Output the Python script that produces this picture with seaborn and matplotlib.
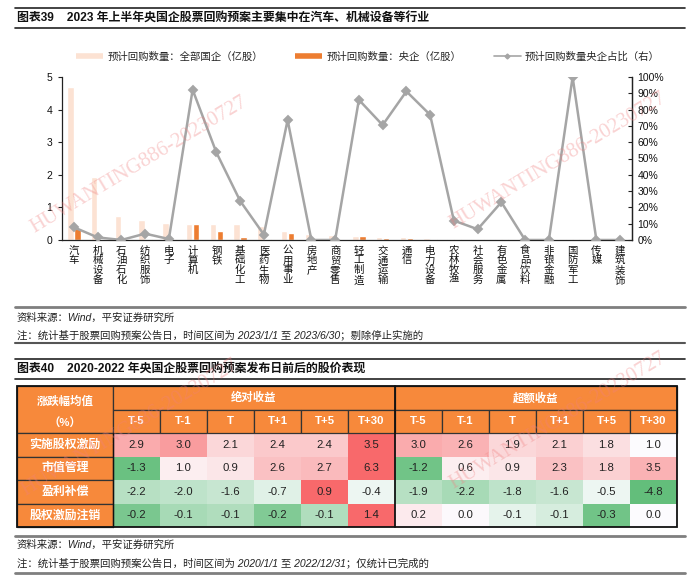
import numpy as np
import pandas as pd
import matplotlib
matplotlib.use('Agg')
import matplotlib.pyplot as plt
import seaborn as sns
from matplotlib.colors import LinearSegmentedColormap
from matplotlib.patches import Rectangle
from matplotlib.lines import Line2D

sns.set_theme(style='white')
plt.rcParams['font.family'] = ['Liberation Sans', 'Noto Sans CJK SC']
plt.rcParams['axes.unicode_minus'] = False

# ---------------- data: chart 1 ----------------
industries = ['汽车', '机械设备', '石油石化', '纺织服饰', '电子', '计算机', '钢铁', '基础化工',
              '医药生物', '公用事业', '房地产', '商贸零售', '轻工制造', '交通运输', '通信', '电力设备',
              '农林牧渔', '社会服务', '有色金属', '食品饮料', '非银金融', '国防军工', '传媒', '建筑装饰']
all_soe = [4.70, 1.93, 0.74, 0.61, 0.53, 0.50, 0.48, 0.48, 0.43, 0.29, 0.19, 0.15,
           0.13, 0.08, 0.08, 0.05, 0.03, 0.03, 0.03, 0.01, 0.01, 0.02, 0.01, 0.01]
central_soe = [0.36, 0.03, 0.00, 0.02, 0.03, 0.48, 0.28, 0.10, 0.02, 0.22, 0.00, 0.00,
               0.11, 0.06, 0.07, 0.04, 0.02, 0.02, 0.02, 0.00, 0.00, 0.02, 0.00, 0.00]
central_share = [7.8, 1.6, 0.0, 3.9, 0.6, 92.2, 53.7, 24.0, 3.3, 73.6, 0.0, 0.0,
                 86.0, 70.5, 91.2, 76.8, 11.9, 6.6, 23.2, 0.0, 0.0, 100.0, 0.0, 0.0]
series_labels = ['预计回购数量：全部国企（亿股）', '预计回购数量：央企（亿股）', '预计回购数量央企占比（右）']
left_ticks = [0, 1, 2, 3, 4, 5]
right_ticks = [0, 10, 20, 30, 40, 50, 60, 70, 80, 90, 100]

# ---------------- data: chart 2 ----------------
row_labels = ['实施股权激励', '市值管理', '盈利补偿', '股权激励注销']
group_labels = ['绝对收益', '超额收益']
col_labels = ['T-5', 'T-1', 'T', 'T+1', 'T+5', 'T+30']
abs_ret = [[2.9, 3.0, 2.1, 2.4, 2.4, 3.5],
           [-1.3, 1.0, 0.9, 2.6, 2.7, 6.3],
           [-2.2, -2.0, -1.6, -0.7, 0.9, -0.4],
           [-0.2, -0.1, -0.1, -0.2, -0.1, 1.4]]
exc_ret = [[3.0, 2.6, 1.9, 2.1, 1.8, 1.0],
           [-1.2, 0.6, 0.9, 2.3, 1.8, 3.5],
           [-1.9, -2.2, -1.8, -1.6, -0.5, -4.8],
           [0.2, 0.0, -0.1, -0.1, -0.3, 0.0]]
# colour intensity of each cell (-1 green .. 0 white .. 1 red)
abs_shade = [[0.55, 0.65, 0.25, 0.35, 0.35, 1.0],
             [-0.95, 0.1, 0.15, 0.4, 0.45, 1.0],
             [-0.45, -0.4, -0.35, -0.18, 1.0, -0.1],
             [-0.85, -0.55, -0.5, -0.8, -0.5, 1.0]]
exc_shade = [[0.55, 0.5, 0.25, 0.3, 0.2, 0.0],
             [-0.9, 0.1, 0.15, 0.4, 0.3, 0.5],
             [-0.45, -0.55, -0.4, -0.35, -0.1, -1.0],
             [0.12, 0.02, -0.15, -0.25, -0.9, 0.0]]

W, H = 700, 587
fig = plt.figure(figsize=(W / 100, H / 100), dpi=100)
fig.patch.set_facecolor('white')

def fy(y):
    return 1 - y / H

def hline(y, color='#222222', lw=1.2):
    fig.add_artist(Line2D([15 / W, 685 / W], [fy(y), fy(y)], transform=fig.transFigure,
                          color=color, lw=lw))

# titles, rules and notes
hline(8)
hline(28)
fig.text(17 / W, fy(18), '图表39    2023 年上半年央国企股票回购预案主要集中在汽车、机械设备等行业',
         fontsize=8.6, fontweight='bold', va='center', ha='left', color='#111111')
hline(307, color='#7f7f7f', lw=2)
fig.text(17 / W, fy(318), '资料来源：Wind，平安证券研究所', fontsize=7.5, style='italic',
         va='center', color='#222222')
fig.text(17 / W, fy(335), '注：统计基于股票回购预案公告日，时间区间为 2023/1/1 至 2023/6/30；剔除停止实施的',
         fontsize=7.5, style='italic', va='center', color='#222222')
hline(343, color='#555555', lw=1.5)
hline(359)
hline(379)
fig.text(17 / W, fy(369), '图表40    2020-2022 年央国企股票回购预案发布日前后的股价表现',
         fontsize=8.6, fontweight='bold', va='center', ha='left', color='#111111')
hline(536, color='#7f7f7f', lw=2)
fig.text(17 / W, fy(545), '资料来源：Wind，平安证券研究所', fontsize=7.5, style='italic',
         va='center', color='#222222')
fig.text(17 / W, fy(563), '注：统计基于股票回购预案公告日，时间区间为 2020/1/1 至 2022/12/31；仅统计已完成的',
         fontsize=7.5, style='italic', va='center', color='#222222')
hline(573, color='#7f7f7f', lw=2)

# ---------------- chart 1 ----------------
c_all, c_cen, c_line = '#FCE2D3', '#ED7D31', '#A5A5A5'
ax = fig.add_axes([62 / W, fy(240), 570 / W, 163 / H])
n = len(industries)
df = pd.DataFrame({'行业': industries * 2,
                   '数量': all_soe + central_soe,
                   '系列': [series_labels[0]] * n + [series_labels[1]] * n})
sns.barplot(data=df, x='行业', y='数量', hue='系列', order=industries,
            hue_order=series_labels[:2], palette=[c_all, c_cen], saturation=1,
            width=0.58, gap=0.06, legend=False, ax=ax)
ax.set_xlim(-0.5, n - 0.5)
ax.set_ylim(0, 5)
ax.set_yticks(left_ticks)
ax.set_yticklabels([str(t) for t in left_ticks], fontsize=7.5, color='#111111')
ax.set_xticks(range(n))
ax.set_xticklabels(['\n'.join(c) for c in industries], fontsize=7.5, linespacing=0.98,
                   color='#111111', va='top')
ax.set_xticks(np.arange(0.5, n - 0.5, 1), minor=True)
ax.tick_params(axis='x', which='major', length=0, pad=4)
ax.tick_params(axis='x', which='minor', length=3, direction='in', color='#222222', width=0.8)
ax.tick_params(axis='y', length=3, direction='out', color='#222222', width=0.8, pad=4)
ax.set_xlabel('')
ax.set_ylabel('')
for s in ['left', 'bottom', 'right']:
    ax.spines[s].set_color('#222222')
    ax.spines[s].set_linewidth(0.9)
ax.spines['top'].set_visible(False)

ax2 = ax.twinx()
sns.pointplot(x=industries, y=central_share, order=industries, color=c_line, markers='D',
              markersize=4, linewidth=1.8, ax=ax2)
ax2.set_xlim(-0.5, n - 0.5)
ax2.set_ylim(0, 100)
ax2.set_yticks(right_ticks)
ax2.set_yticklabels([f'{t}%' for t in right_ticks], fontsize=7.5, color='#111111')
ax2.tick_params(axis='y', length=3, direction='in', color='#222222', width=0.8, pad=4)
ax2.set_ylabel('')
ax2.set_xlabel('')
ax2.spines['top'].set_visible(False)
ax2.spines['right'].set_color('#222222')
ax2.spines['right'].set_linewidth(0.9)
ax2.spines['left'].set_visible(False)
ax2.spines['bottom'].set_visible(False)

handles = [Line2D([], [], color=c_all, lw=4, solid_capstyle='butt'),
           Line2D([], [], color=c_cen, lw=4, solid_capstyle='butt'),
           Line2D([], [], color=c_line, lw=1.2, marker='D', markersize=2.5)]
fig.legend(handles, series_labels, loc='center', bbox_to_anchor=(368 / W, fy(57)), ncol=3,
           frameon=False, fontsize=7.5, handlelength=2.6, handletextpad=0.4,
           columnspacing=3.1)

# ---------------- chart 2 ----------------
cmap = LinearSegmentedColormap.from_list('gwr', ['#63BE7B', '#FCFCFF', '#F8696B'])
values = np.hstack([np.array(abs_ret), np.array(exc_ret)])
shade = np.hstack([np.array(abs_shade), np.array(exc_shade)])
annot = np.array([[f'{v:.1f}' for v in row] for row in values])
axt = fig.add_axes([113 / W, fy(527), 564 / W, 94 / H])
sns.heatmap(shade, ax=axt, cmap=cmap, vmin=-1, vmax=1, cbar=False, annot=annot, fmt='',
            annot_kws={'fontsize': 8.2, 'color': '#222222'}, xticklabels=False,
            yticklabels=False, linewidths=0)

orange = '#F7893B'
edge = '#333333'
lw_c = 0.9
lx = -96 / 47
# left header
axt.add_patch(Rectangle((lx, -2), -lx, 2, facecolor=orange, edgecolor=edge, lw=lw_c, clip_on=False))
axt.text(lx / 2, -1.36, '涨跌幅均值', ha='center', va='center', color='white', fontsize=8.2,
         fontweight='bold', clip_on=False)
axt.text(lx / 2, -0.47, '（%）', ha='center', va='center', color='white', fontsize=8.2,
         fontweight='bold', clip_on=False)
for g, lab in enumerate(group_labels):
    axt.add_patch(Rectangle((6 * g, -2), 6, 1, facecolor=orange, edgecolor=edge, lw=lw_c, clip_on=False))
    axt.text(6 * g + 3, -1.5, lab, ha='center', va='center', color='white', fontsize=8.2,
             fontweight='bold', clip_on=False)
    for j, cl in enumerate(col_labels):
        x0 = 6 * g + j
        axt.add_patch(Rectangle((x0, -1), 1, 1, facecolor=orange, edgecolor=edge, lw=lw_c, clip_on=False))
        axt.text(x0 + 0.5, -0.5, cl, ha='center', va='center', color='white', fontsize=8.2,
                 fontweight='bold', clip_on=False)
for i, rl in enumerate(row_labels):
    axt.add_patch(Rectangle((lx, i), -lx, 1, facecolor=orange, edgecolor=edge, lw=lw_c, clip_on=False))
    axt.text(lx / 2, i + 0.5, rl, ha='center', va='center', color='white', fontsize=8.6,
             fontweight='bold', clip_on=False)
axt.add_patch(Rectangle((lx, -2), 12 - lx, 6, facecolor='none', edgecolor='#111111', lw=1.3,
                        clip_on=False, zorder=5))
axt.plot([6, 6], [-2, 4], color='#111111', lw=1.3, clip_on=False, zorder=5)
axt.plot([0, 0], [0, 4], color='#111111', lw=1.0, clip_on=False, zorder=5)
for s in axt.spines.values():
    s.set_visible(False)

# watermarks
wm = 'HUWANTING886-20230727'
for (x, y) in [(139, 165), (558, 161), (130, 428), (558, 421)]:
    fig.text(x / W, fy(y), wm, fontsize=15, family='Liberation Serif', color='#F08080',
             alpha=0.35, rotation=31, ha='center', va='center', rotation_mode='anchor',
             zorder=10)

fig.savefig('out.png', dpi=100, facecolor='white')
